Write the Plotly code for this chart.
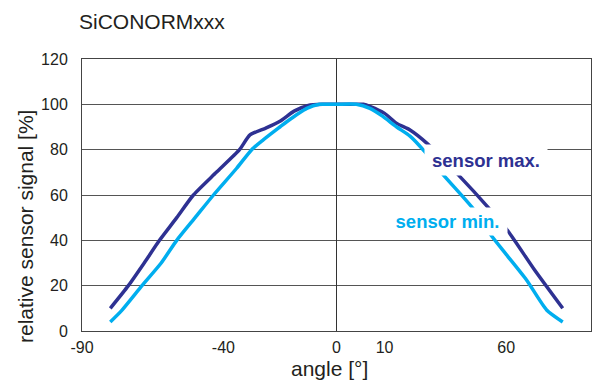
import plotly.graph_objects as go

# Angular response curves (angle in degrees, relative signal in %)
angle_max = [-80, -73.6, -68, -62.6, -56.5, -50.6, -42.5, -34.3, -30.6, -25, -20, -15, -10, -5, 0, 5, 9.5,
             12, 17, 21.3, 26, 32, 43, 54, 60.7, 70, 80]
signal_max = [10, 20, 30, 40, 50, 60, 70, 80, 86.5, 89.5, 92.5, 97, 99.5, 100, 100, 100, 100,
              99, 96, 91.6, 88.7, 82.8, 69, 54, 44, 27, 10]

angle_min = [-80, -76, -68.8, -62, -56.5, -50, -43.5, -35.3, -30, -25.9, -20, -17.6, -10.5, -6, 0, 7,
             11.8, 16, 21.3, 26, 31.3, 37.7, 48.3, 54.8, 60, 67.2, 74.3, 80]
signal_min = [4, 9, 20, 30, 40, 50, 60, 71.8, 80, 84.3, 90, 92.3, 98.2, 100, 100, 100,
              98.2, 95, 90, 86, 79, 69, 54, 42, 33.8, 22.5, 9.3, 4]

# Axis ticks as printed on the chart
x_tick_pos = [-90, -40, 0, 17, 60]
x_tick_text = ["-90", "-40", "0", "10", "60"]
y_tick_vals = [0, 20, 40, 60, 80, 100, 120]

DARK = "#2e3192"
LIGHT = "#00aeef"
FONT = "Liberation Sans, Arial, sans-serif"
TEXT = "#231f20"

fig = go.Figure()
fig.add_trace(go.Scatter(x=angle_max, y=signal_max, mode="lines", name="sensor max.",
                         line=dict(color=DARK, width=3.5, shape="spline", smoothing=0.6)))
fig.add_trace(go.Scatter(x=angle_min, y=signal_min, mode="lines", name="sensor min.",
                         line=dict(color=LIGHT, width=3.5, shape="spline", smoothing=0.6)))

# Curve labels on white boxes that interrupt the lines and grid
fig.add_annotation(x=52.8, y=75.4, xref="x", yref="y", text="<b>sensor max.</b>",
                   showarrow=False, bgcolor="white", width=122, height=30, borderpad=0,
                   font=dict(family=FONT, size=18.5, color=DARK))
fig.add_annotation(x=39.1, y=48.3, xref="x", yref="y", text="<b>sensor min.</b>",
                   showarrow=False, bgcolor="white", width=119, height=27, borderpad=0,
                   font=dict(family=FONT, size=18.5, color=LIGHT))

# Axis titles
fig.add_annotation(x=-0.112, y=0.386, xref="paper", yref="paper", text="relative sensor signal [%]",
                   textangle=-90, showarrow=False, xanchor="center", yanchor="middle",
                   font=dict(family=FONT, size=21, color=TEXT))
fig.add_annotation(x=0.487, y=-0.138, xref="paper", yref="paper", text="angle [°]",
                   showarrow=False, xanchor="center", yanchor="middle",
                   font=dict(family=FONT, size=21, color=TEXT))

fig.update_layout(
    width=593, height=380,
    margin=dict(l=82, r=2, t=59, b=49),
    paper_bgcolor="white", plot_bgcolor="white",
    showlegend=False,
    font=dict(family=FONT, color=TEXT),
    title=dict(text="SiCONORMxxx", xref="container", yref="container",
               x=79 / 593, xanchor="left", y=1 - 21.7 / 380, yanchor="middle",
               font=dict(family=FONT, size=21, color=TEXT)),
)
fig.update_xaxes(range=[-90, 90], tickvals=x_tick_pos, ticktext=x_tick_text,
                 showgrid=False, zeroline=True, zerolinecolor="#333", zerolinewidth=1,
                 showline=True, mirror=True, linecolor="#444", linewidth=1,
                 ticks="", ticklabelstandoff=2,
                 tickfont=dict(family=FONT, size=16, color=TEXT))
fig.update_yaxes(range=[0, 120], tickvals=y_tick_vals,
                 showgrid=True, gridcolor="#555", gridwidth=1, zeroline=False,
                 showline=True, mirror=True, linecolor="#444", linewidth=1,
                 ticks="", ticklabelstandoff=10,
                 tickfont=dict(family=FONT, size=16, color=TEXT))

fig.write_html("out.html")
